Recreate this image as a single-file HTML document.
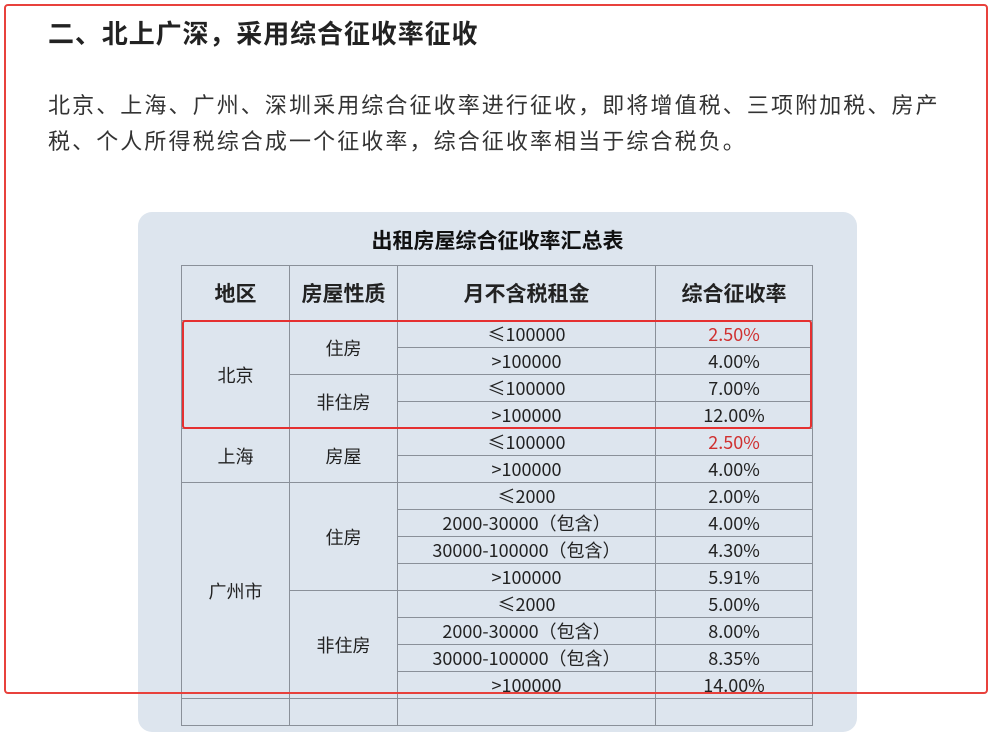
<!DOCTYPE html>
<html><head><meta charset="utf-8"><style>
body{margin:0;width:997px;height:701px;overflow:hidden;background:#fff;position:relative;font-family:"Liberation Sans","Noto Sans CJK SC",sans-serif;}
.frame{position:absolute;left:4px;top:4px;width:980px;height:686px;border:2px solid #e8413c;border-radius:4px;z-index:5;pointer-events:none}
h2{position:absolute;left:48px;top:15px;margin:0;font-size:26px;letter-spacing:0.9px;font-weight:bold;color:#222;line-height:38px;white-space:nowrap}
p{position:absolute;left:48px;top:88px;margin:0;width:940px;font-size:22px;letter-spacing:2.1px;line-height:36px;color:#333;white-space:nowrap}
.img{position:absolute;left:138px;top:212px;width:719px;height:520px;background:#dde5ee;border-radius:14px}
.title{position:absolute;left:138px;width:719px;top:225px;text-align:center;font-size:21px;font-weight:bold;color:#111;font-family:"Noto Sans CJK SC",sans-serif}
table{position:absolute;left:181px;top:265px;border-collapse:collapse;font-family:"Noto Sans CJK SC",sans-serif;color:#222;font-size:18px}
td{border:1.5px solid #8a9099;text-align:center;padding:0;height:26px;line-height:24px}
th{border:1.5px solid #8a9099;height:52px;font-size:21px;font-weight:bold}
.r{color:#d03030}
.red{position:absolute;left:182px;top:320px;width:626px;height:105px;border:2px solid #e53030;border-radius:3px}
</style></head><body>
<h2>二、北上广深，采用综合征收率征收</h2>
<p>北京、上海、广州、深圳采用综合征收率进行征收，即将增值税、三项附加税、房产<br>税、个人所得税综合成一个征收率，综合征收率相当于综合税负。</p>
<div class="img"></div>
<div class="title">出租房屋综合征收率汇总表</div>
<table>
<colgroup><col style="width:108px"><col style="width:108px"><col style="width:258px"><col style="width:157px"></colgroup>
<tr><th>地区</th><th>房屋性质</th><th>月不含税租金</th><th>综合征收率</th></tr>
<tr><td rowspan="4">北京</td><td rowspan="2">住房</td><td>≤100000</td><td class="r">2.50%</td></tr>
<tr><td>&gt;100000</td><td>4.00%</td></tr>
<tr><td rowspan="2">非住房</td><td>≤100000</td><td>7.00%</td></tr>
<tr><td>&gt;100000</td><td>12.00%</td></tr>
<tr><td rowspan="2">上海</td><td rowspan="2">房屋</td><td>≤100000</td><td class="r">2.50%</td></tr>
<tr><td>&gt;100000</td><td>4.00%</td></tr>
<tr><td rowspan="8">广州市</td><td rowspan="4">住房</td><td>≤2000</td><td>2.00%</td></tr>
<tr><td>2000-30000（包含）</td><td>4.00%</td></tr>
<tr><td>30000-100000（包含）</td><td>4.30%</td></tr>
<tr><td>&gt;100000</td><td>5.91%</td></tr>
<tr><td rowspan="4">非住房</td><td>≤2000</td><td>5.00%</td></tr>
<tr><td>2000-30000（包含）</td><td>8.00%</td></tr>
<tr><td>30000-100000（包含）</td><td>8.35%</td></tr>
<tr><td>&gt;100000</td><td>14.00%</td></tr>
<tr><td></td><td></td><td></td><td></td></tr>
</table>
<div class="red"></div>
<div class="frame"></div>
</body></html>
